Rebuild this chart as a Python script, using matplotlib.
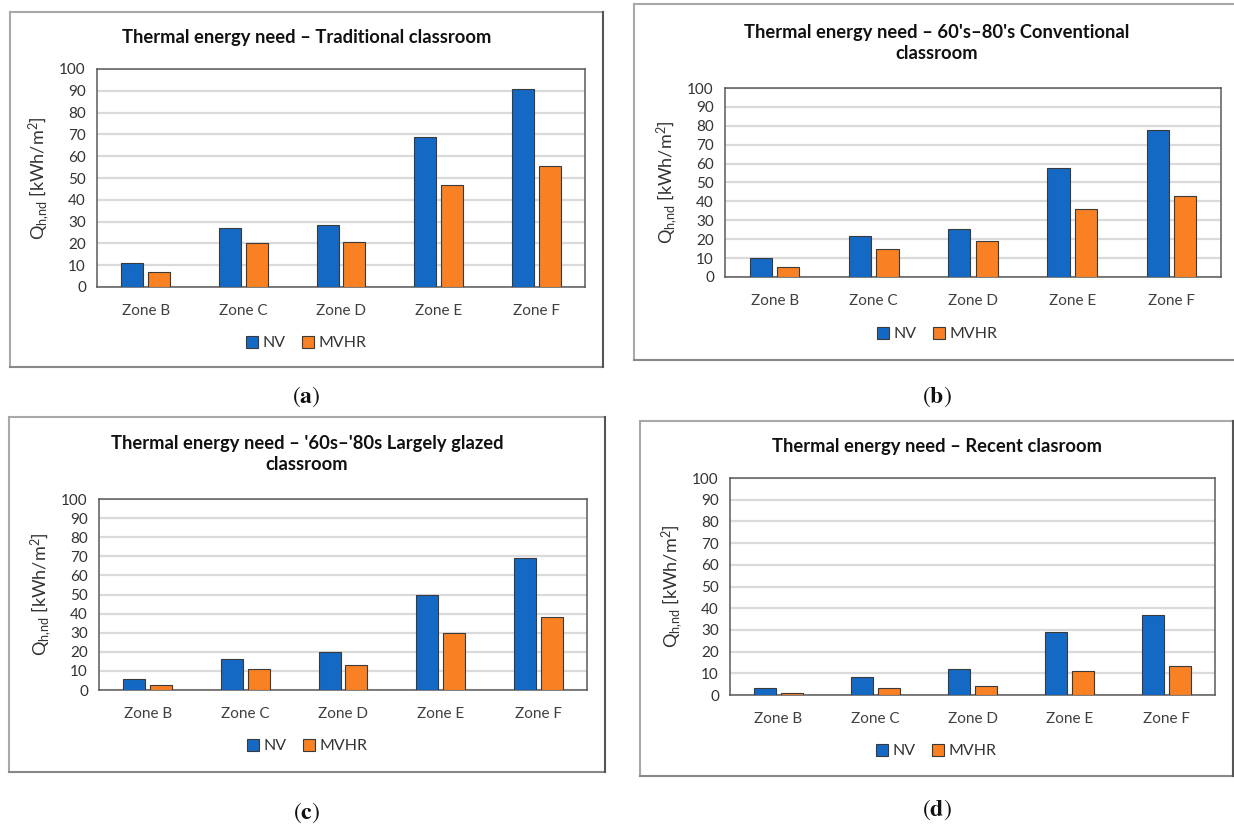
import matplotlib
matplotlib.use("Agg")
import numpy as np
import matplotlib.pyplot as plt
from matplotlib.lines import Line2D

W, H = 1234, 830

zones = ["Zone B", "Zone C", "Zone D", "Zone E", "Zone F"]
series = ["NV", "MVHR"]

nv_a = [11, 27, 28.6, 69, 91]
mvhr_a = [6.7, 20.2, 20.5, 46.6, 55.3]
nv_b = [9.9, 21.8, 25.2, 57.7, 78]
mvhr_b = [5.1, 15, 18.8, 35.9, 43.1]
nv_c = [5.8, 16.4, 19.9, 49.9, 68.9]
mvhr_c = [2.4, 11.2, 13.1, 30, 38.2]
nv_d = [3.4, 8.4, 12.1, 28.9, 36.9]
mvhr_d = [0.8, 3.4, 4.0, 10.9, 13.2]

titles = [
    "Thermal energy need \u2013 Traditional classroom",
    "Thermal energy need \u2013 60's\u201380's Conventional\nclassroom",
    "Thermal energy need \u2013 '60s\u2013'80s Largely glazed\nclassroom",
    "Thermal energy need \u2013 Recent clasroom",
]
letters = ["a", "b", "c", "d"]

BLUE = "#1469C4"
ORANGE = "#F98023"

plt.rcParams["font.family"] = ["Lato", "DejaVu Sans"]
plt.rcParams["mathtext.fontset"] = "stix"

fig = plt.figure(figsize=(W / 100, H / 100), dpi=100)


def fx(x):
    return x / W


def fy(y):
    return 1 - y / H


# panel layout in pixels: axes (l, r, t, b), frame (l, r, t, b), title y, legend y, letter y
panels = [
    dict(nv=nv_a, mv=mvhr_a, ax=(97, 585, 69, 287), fr=(10, 603, 12, 367),
         ty=37, ly=343, lab=397),
    dict(nv=nv_b, mv=mvhr_b, ax=(725, 1221, 88, 277), fr=(634, 1240, 4, 360),
         ty=43, ly=334, lab=397),
    dict(nv=nv_c, mv=mvhr_c, ax=(99, 587, 499, 690), fr=(9, 605, 417, 772),
         ty=454, ly=746, lab=813),
    dict(nv=nv_d, mv=mvhr_d, ax=(730, 1215, 478, 695), fr=(640, 1233, 421, 776),
         ty=446, ly=751, lab=810),
]

x = np.arange(len(zones))
bw = 0.225
off = 0.138

for i, p in enumerate(panels):
    l, r, t, b = p["ax"]
    ax = fig.add_axes([fx(l), fy(b), (r - l) / W, (b - t) / H])
    ax.bar(x - off, p["nv"], bw, color=BLUE, edgecolor="#3a3a3a", linewidth=0.8,
           label=series[0], zorder=3)
    ax.bar(x + off, p["mv"], bw, color=ORANGE, edgecolor="#3a3a3a", linewidth=0.8,
           label=series[1], zorder=3)
    ax.set_xlim(-0.5, len(zones) - 0.5)
    ax.set_ylim(0, 100)
    ax.set_yticks(np.arange(0, 101, 10))
    ax.set_xticks(x)
    ax.set_xticklabels(zones)
    ax.yaxis.grid(True, color="#DADADA", linewidth=1.6, zorder=0)
    ax.set_axisbelow(True)
    for s in ax.spines.values():
        s.set_color("#5a5a5a")
        s.set_linewidth(1.1)
    ax.tick_params(axis="y", length=0, pad=8, labelsize=11, labelcolor="#333333")
    ax.tick_params(axis="x", length=0, pad=12, labelsize=11, labelcolor="#404040")
    ax.set_ylabel(r"$\mathregular{Q_{h{,}nd}}$ [kWh/m$\mathregular{^2}$]",
                  fontsize=13, color="#333333", labelpad=5)

    fl, fr_, ft, fb = p["fr"]
    cx = (fl + min(fr_, 1240)) / 2
    fig.text(fx(cx), fy(p["ty"]), titles[i], ha="center", va="center",
             fontsize=13.2, fontweight="bold", color="#111111", linespacing=1.3)

    ax.legend(loc="center", bbox_to_anchor=(fx(cx), fy(p["ly"])),
              bbox_transform=fig.transFigure, ncol=2, frameon=False,
              handlelength=0.75, handleheight=0.85, handletextpad=0.3,
              columnspacing=1.0, fontsize=11.5, labelcolor="#333333")

    # panel frame: light top/left, darker right/bottom
    light, dark = "#A8A8A8", "#555555"
    fig.add_artist(Line2D([fx(fl), fx(fr_)], [fy(ft), fy(ft)], color=light, lw=1.5))
    fig.add_artist(Line2D([fx(fl), fx(fl)], [fy(ft), fy(fb)], color=light, lw=1.5))
    fig.add_artist(Line2D([fx(fl), fx(fr_)], [fy(fb), fy(fb)], color="#888888", lw=1.5))
    fig.add_artist(Line2D([fx(fr_), fx(fr_)], [fy(ft), fy(fb)], color=dark, lw=1.5))

    fig.text(fx(cx), fy(p["lab"]), r"($\mathbf{%s}$)" % letters[i], ha="center",
             va="center", fontsize=17, family="STIXGeneral", color="#111111")

fig.savefig("out.png", dpi=100, facecolor="white")
